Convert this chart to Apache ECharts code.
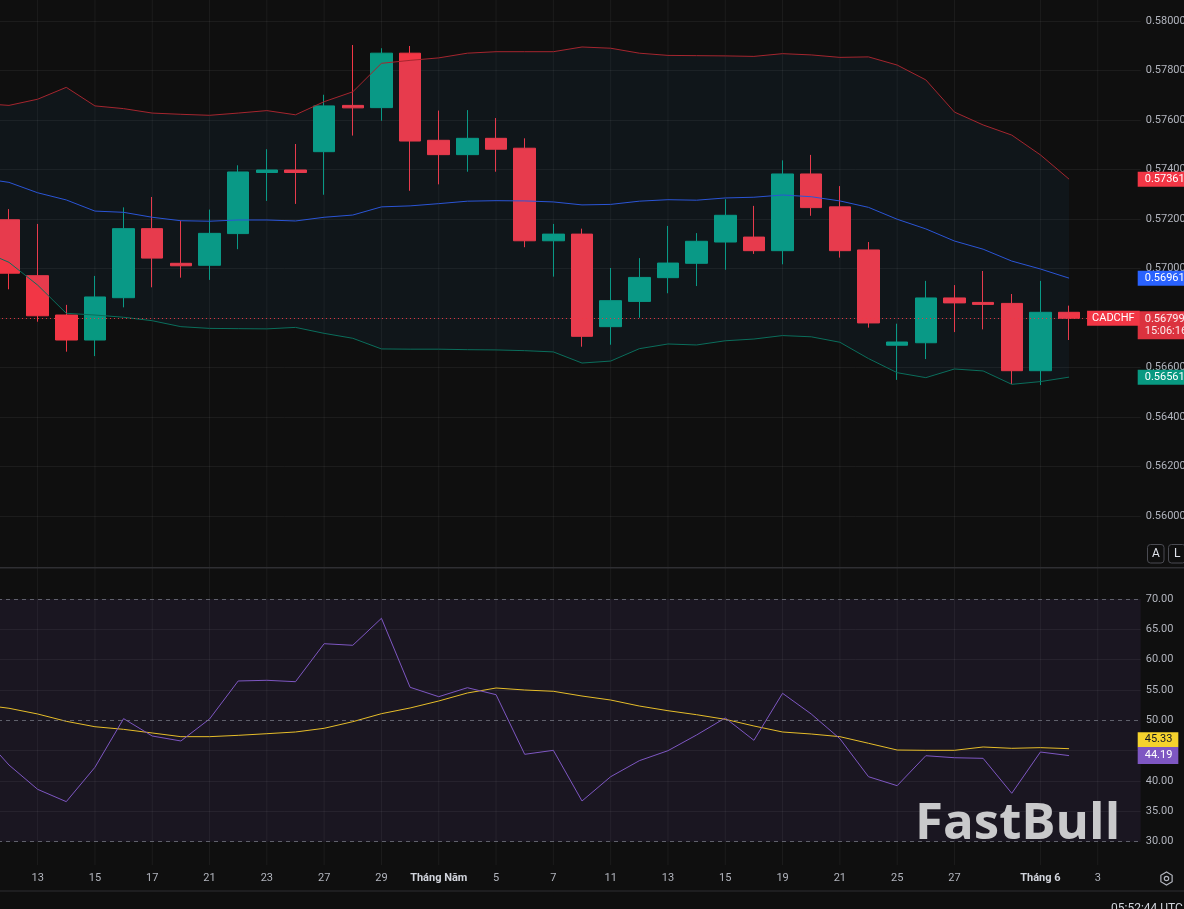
<!DOCTYPE html>
<html><head><meta charset="utf-8">
<script src="https://cdn.jsdelivr.net/npm/echarts@6/dist/echarts.min.js"></script>
<style>html,body{margin:0;padding:0;background:#0f0f0f;overflow:hidden}#c{width:1184px;height:909px}</style>
</head><body><div id="c"></div>
<script>
// ---- categories (trading days) ----
const dates = ['2026-04-09','2026-04-10','2026-04-13','2026-04-14','2026-04-15','2026-04-16','2026-04-17',
 '2026-04-20','2026-04-21','2026-04-22','2026-04-23','2026-04-24','2026-04-27','2026-04-28','2026-04-29','2026-04-30',
 '2026-05-01','2026-05-04','2026-05-05','2026-05-06','2026-05-07','2026-05-08','2026-05-11','2026-05-12','2026-05-13',
 '2026-05-14','2026-05-15','2026-05-18','2026-05-19','2026-05-20','2026-05-21','2026-05-22','2026-05-25','2026-05-26',
 '2026-05-27','2026-05-28','2026-05-29','2026-06-01','2026-06-02','2026-06-03','2026-06-04'];
const xTickLabels = {'2026-04-13':'13','2026-04-15':'15','2026-04-17':'17','2026-04-21':'21','2026-04-23':'23',
 '2026-04-27':'27','2026-04-29':'29','2026-05-01':'Tháng Năm','2026-05-05':'5','2026-05-07':'7','2026-05-11':'11',
 '2026-05-13':'13','2026-05-15':'15','2026-05-19':'19','2026-05-21':'21','2026-05-25':'25','2026-05-27':'27',
 '2026-06-01':'Tháng 6','2026-06-03':'3'};
// ---- OHLC ----
const opens  = [null,0.57197,0.56971,0.56812,0.56711,0.56882,0.57161,0.57021,0.57013,0.57141,0.57388,0.57398,0.57472,0.57659,0.57650,0.57870,0.57518,0.57460,0.57526,0.57486,0.57112,0.57139,0.56765,0.56867,0.56963,0.57021,0.57107,0.57127,0.57072,0.57382,0.57249,0.57075,0.56690,0.56700,0.56881,0.56863,0.56859,0.56587,0.56823,null,null];
const closes = [null,0.56981,0.56809,0.56711,0.56885,0.57161,0.57042,0.57011,0.57142,0.57390,0.57398,0.57388,0.57657,0.57649,0.57870,0.57515,0.57460,0.57526,0.57482,0.57112,0.57139,0.56726,0.56870,0.56964,0.57022,0.57110,0.57215,0.57072,0.57382,0.57246,0.57072,0.56780,0.56703,0.56881,0.56861,0.56855,0.56587,0.56823,0.56799,null,null];
const highs  = [null,0.57240,0.57180,0.56853,0.56970,0.57247,0.57289,0.57193,0.57238,0.57417,0.57482,0.57503,0.57702,0.57903,0.57890,0.57899,0.57638,0.57640,0.57608,0.57526,0.57180,0.57161,0.57002,0.57042,0.57172,0.57143,0.57280,0.57253,0.57437,0.57459,0.57333,0.57107,0.56777,0.56950,0.56933,0.56990,0.56897,0.56950,0.56850,null,null];
const lows   = [null,0.56916,0.56785,0.56664,0.56646,0.56843,0.56924,0.56963,0.56954,0.57078,0.57273,0.57261,0.57298,0.57537,0.57597,0.57314,0.57340,0.57391,0.57391,0.57086,0.56967,0.56684,0.56692,0.56801,0.56900,0.56929,0.56995,0.57059,0.57017,0.57213,0.57044,0.56761,0.56550,0.56634,0.56743,0.56754,0.56533,0.56529,0.56711,null,null];
// ---- Bollinger bands ----
const bbUpper  = [0.57667,0.57659,0.57684,0.57732,0.57657,0.57646,0.57628,0.57623,0.57619,0.57628,0.57638,0.57621,0.57674,0.57714,0.57829,0.57841,0.57851,0.57870,0.57876,0.57876,0.57876,0.57895,0.57890,0.57870,0.57861,0.57860,0.57859,0.57857,0.57868,0.57863,0.57853,0.57855,0.57822,0.57762,0.57632,0.57580,0.57539,0.57459,0.57361,null,null];
const bbMiddle = [0.57365,0.57348,0.57306,0.57277,0.57232,0.57227,0.57207,0.57193,0.57191,0.57196,0.57196,0.57192,0.57207,0.57216,0.57249,0.57253,0.57262,0.57272,0.57274,0.57273,0.57269,0.57257,0.57259,0.57272,0.57278,0.57276,0.57285,0.57288,0.57297,0.57290,0.57273,0.57247,0.57199,0.57160,0.57111,0.57078,0.57030,0.56998,0.56961,null,null];
const bbLower  = [0.57075,0.57025,0.56933,0.56819,0.56812,0.56803,0.56789,0.56765,0.56758,0.56757,0.56756,0.56762,0.56738,0.56718,0.56675,0.56674,0.56674,0.56672,0.56671,0.56668,0.56663,0.56618,0.56626,0.56676,0.56695,0.56691,0.56708,0.56715,0.56729,0.56724,0.56702,0.56636,0.56579,0.56559,0.56594,0.56586,0.56532,0.56543,0.56561,null,null];
// ---- RSI ----
const rsi   = [47.9,42.64,38.63,36.60,42.26,50.28,47.42,46.60,50.22,56.49,56.60,56.37,62.63,62.37,66.82,55.45,53.90,55.38,54.23,44.40,45.06,36.71,40.71,43.35,45.00,47.59,50.39,46.71,54.46,51.05,46.98,40.71,39.23,44.17,43.84,43.74,37.98,44.78,44.19,null,null];
const rsiMA = [52.6,51.99,51.05,49.84,48.95,48.52,47.92,47.31,47.31,47.53,47.80,48.08,48.69,49.78,51.10,52.04,53.19,54.51,55.33,55.00,54.79,54.01,53.35,52.36,51.59,50.93,50.17,49.07,48.08,47.75,47.31,46.22,45.11,45.06,45.06,45.61,45.39,45.50,45.33,null,null];
const rsiLevels = [70, 50, 30];
const symbolName = 'CADCHF';
const countdown = '15:06:16';
const clockText = '05:52:44 UTC';

const last = 38;
const candleData = dates.map((d,i)=> opens[i]==null ? '-' : [opens[i], closes[i], lows[i], highs[i]]);
const bandDiff = bbUpper.map((u,i)=> u==null ? '-' : +(u - bbLower[i]).toFixed(6));
const gridLineData = dates.map(d => xTickLabels[d] ? 1 : '-');
const nz = a => a.map(v => v==null ? '-' : v);

const GRID = 'rgba(242,242,242,0.06)';
const TXT = '#b2b5be';
const FONT = 'Roboto';
const gL = -34, gR = 43.3;

const boxLabel = (bg, fg, fmt, extra) => Object.assign({
  show:true, position:'end', distance:-3, formatter: fmt, backgroundColor:bg, color:fg,
  padding:[2,6,1,7], fontSize:11, fontFamily:FONT, lineHeight:12
}, extra||{});
const hidden = {color:'rgba(0,0,0,0)', width:1};

const chart = echarts.init(document.getElementById('c'), null, {renderer:'canvas'});
const hex = [];
for (let k=0;k<6;k++){ const a = Math.PI/6 + k*Math.PI/3; hex.push([1166.5+6.5*Math.cos(a), 878.5+6.5*Math.sin(a)]); }

chart.setOption({
  backgroundColor:'#0f0f0f',
  animation:false,
  grid:[
    {left:gL, right:gR, top:21, height:495, containLabel:false, outerBoundsMode:'none'},
    {left:gL, right:gR, top:599, height:242.7, show:true, backgroundColor:'rgba(126,87,194,0.1)', borderWidth:0, containLabel:false, outerBoundsMode:'none'},
    {left:gL, right:gR, top:0, height:865, containLabel:false, outerBoundsMode:'none'}
  ],
  xAxis:[
    {gridIndex:0, type:'category', data:dates, show:false},
    {gridIndex:1, type:'category', data:dates, show:false},
    {gridIndex:2, type:'category', data:dates, axisLine:{show:false}, axisTick:{show:false}, splitLine:{show:false},
     axisLabel:{interval:(i,v)=>!!xTickLabels[v], margin:8, color:TXT, fontSize:11, fontFamily:FONT,
       formatter:(v)=>{const t=xTickLabels[v]||''; return t.indexOf('Tháng')===0 ? '{m|'+t+'}' : t;},
       rich:{m:{fontWeight:'bold', color:'#d1d4dc', fontSize:11, fontFamily:FONT}}}}
  ],
  yAxis:[
    {gridIndex:0, type:'value', position:'right', min:0.56, max:0.58, interval:0.002,
     axisLine:{show:false}, axisTick:{show:false},
     axisLabel:{formatter:v=>v.toFixed(5), margin:5, color:TXT, fontSize:11, fontFamily:FONT},
     splitLine:{lineStyle:{color:GRID, width:1}}},
    {gridIndex:1, type:'value', position:'right', min:30, max:70, interval:5,
     axisLine:{show:false}, axisTick:{show:false},
     axisLabel:{formatter:v=>v.toFixed(2), margin:5, color:TXT, fontSize:11, fontFamily:FONT},
     splitLine:{lineStyle:{color:['rgba(0,0,0,0)',GRID,GRID,GRID,'rgba(0,0,0,0)',GRID,GRID,GRID,'rgba(0,0,0,0)'], width:1}}},
    {gridIndex:2, type:'value', min:0, max:1, show:false}
  ],
  series:[
    {name:'vgrid', type:'bar', xAxisIndex:2, yAxisIndex:2, data:gridLineData, barWidth:1, silent:true,
     itemStyle:{color:GRID}},
    {name:'bbBase', type:'line', stack:'bb', data:nz(bbLower), symbol:'none', silent:true, lineStyle:{opacity:0}},
    {name:'bbFill', type:'line', stack:'bb', data:bandDiff, symbol:'none', silent:true, lineStyle:{opacity:0},
     areaStyle:{color:'rgba(33,150,243,0.05)', opacity:1}},
    {name:'upper', type:'line', data:nz(bbUpper), symbol:'none', silent:true, lineStyle:{color:'#a5262f', width:1},
     markLine:{silent:true, precision:5, symbol:['none','none'], lineStyle:hidden,
       label:boxLabel('#f23645','#ffffff', p=>p.value.toFixed(5)), data:[{yAxis:bbUpper[last]}]}},
    {name:'middle', type:'line', data:nz(bbMiddle), symbol:'none', silent:true, lineStyle:{color:'#2b55d6', width:1},
     markLine:{silent:true, precision:5, symbol:['none','none'], lineStyle:hidden,
       label:boxLabel('#2962ff','#ffffff', p=>p.value.toFixed(5)), data:[{yAxis:bbMiddle[last]}]}},
    {name:'lower', type:'line', data:nz(bbLower), symbol:'none', silent:true, lineStyle:{color:'#0b6e5c', width:1},
     markLine:{silent:true, precision:5, symbol:['none','none'], lineStyle:hidden,
       label:boxLabel('#089981','#ffffff', p=>p.value.toFixed(5)), data:[{yAxis:bbLower[last]}]}},
    {name:'price', type:'candlestick', data:candleData, barWidth:22, silent:true,
     itemStyle:{color:'#089981', color0:'#f23645', borderColor:'#089981', borderColor0:'#f23645', borderWidth:1},
     markLine:{silent:true, precision:5, symbol:['none','none'], lineStyle:{color:'#f23645', type:[1,3], width:1, opacity:0.9},
       label:boxLabel('#f23645','#ffffff', p=>p.value.toFixed(5)+'\n'+countdown, {offset:[0,7], padding:[2,6,2,7]}),
       data:[{yAxis:closes[last]}]},
     markPoint:{silent:true, symbol:'rect', symbolSize:[1,1], itemStyle:{color:'rgba(0,0,0,0)'},
       label:{show:true, position:'inside', formatter:symbolName, backgroundColor:'#f23645', color:'#ffffff',
         padding:[2,5,1,5], fontSize:11, fontFamily:FONT, lineHeight:12, offset:[-13,0]},
       data:[{coord:[dates[dates.length-1], closes[last]]}]}},
    {name:'rsiMA', type:'line', xAxisIndex:1, yAxisIndex:1, data:nz(rsiMA), symbol:'none', silent:true,
     lineStyle:{color:'#e6bd2a', width:1},
     markLine:{silent:true, precision:2, symbol:['none','none'],
       data: rsiLevels.map(v=>({yAxis:v, lineStyle:{color:'rgba(120,123,134,0.75)', type:[4,4], width:1}, label:{show:false}}))
         .concat([{yAxis:rsiMA[last], lineStyle:hidden,
           label:boxLabel('#f5d32d','#131722', p=>p.value.toFixed(2), {offset:[0,-9]})}])}},
    {name:'rsi', type:'line', xAxisIndex:1, yAxisIndex:1, data:nz(rsi), symbol:'none', silent:true,
     lineStyle:{color:'#7e57c2', width:1},
     markLine:{silent:true, precision:2, symbol:['none','none'], lineStyle:hidden,
       label:boxLabel('#7e57c2','#ffffff', p=>p.value.toFixed(2), {padding:[3,6,2,7]}), data:[{yAxis:rsi[last]}]}}
  ],
  graphic:[
    {type:'rect', shape:{x:0,y:567,width:1184,height:1.5}, style:{fill:'#2f2f33'}, silent:true, z:10},
    {type:'rect', shape:{x:0,y:890.5,width:1184,height:1}, style:{fill:'#2f2f33'}, silent:true, z:10},
    {type:'text', x:915, y:824, style:{text:'FastBull', font:'bold 51px "Open Sans"', fill:'#c9c9cb', textVerticalAlign:'middle'}, silent:true, z:5},
    {type:'rect', shape:{x:1147.5,y:544.5,width:16.5,height:18.5,r:3}, style:{fill:'#0f0f0f', stroke:'#4a4b52', lineWidth:1}, z:10},
    {type:'text', x:1155.8, y:554, style:{text:'A', font:'12px Roboto', fill:'#e0e3eb', textAlign:'center', textVerticalAlign:'middle'}, z:11},
    {type:'rect', shape:{x:1168.5,y:544.5,width:17,height:18.5,r:3}, style:{fill:'#0f0f0f', stroke:'#4a4b52', lineWidth:1}, z:10},
    {type:'text', x:1177.2, y:554, style:{text:'L', font:'12px Roboto', fill:'#e0e3eb', textAlign:'center', textVerticalAlign:'middle'}, z:11},
    {type:'polygon', shape:{points:hex}, style:{fill:'none', stroke:'#b2b5be', lineWidth:1.2}, z:10},
    {type:'circle', shape:{cx:1166.5, cy:878.5, r:2.2}, style:{fill:'none', stroke:'#b2b5be', lineWidth:1.2}, z:10},
    {type:'text', x:1111, y:903, style:{text:clockText, font:'12px Roboto', fill:'#d1d4dc', textVerticalAlign:'top'}, z:10}
  ]
});
</script></body></html>
